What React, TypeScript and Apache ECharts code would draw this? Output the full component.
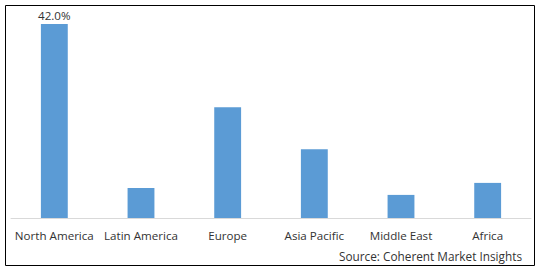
import React, { useEffect, useRef } from "react";
import * as echarts from "echarts";

const categories = ["North America", "Latin America", "Europe", "Asia Pacific", "Middle East", "Africa"];
const shares = [42.0, 6.5, 24.0, 14.9, 5.0, 7.6];
const labeledIndex = 0;
const sourceText = "Source: Coherent Market Insights";

export default function App() {
  const ref = useRef<HTMLDivElement>(null);
  useEffect(() => {
    if (!ref.current) return;
    const chart = echarts.init(ref.current, null, { renderer: "svg" });
    const font = "'Open Sans', 'Noto Sans', sans-serif";
    chart.setOption({
      animation: false,
      backgroundColor: "#ffffff",
      grid: { left: 11, right: 8, top: 24, bottom: 54, containLabel: false },
      xAxis: {
        type: "category",
        data: categories,
        axisLine: { show: true, lineStyle: { color: "#d9d9d9", width: 1 } },
        axisTick: { show: false },
        axisLabel: { color: "#333333", fontSize: 11.6, fontFamily: font, margin: 11, interval: 0 },
      },
      yAxis: {
        type: "value",
        min: 0,
        max: "dataMax",
        show: false,
        splitLine: { show: false },
      },
      series: [
        {
          type: "bar",
          data: shares.map((v, i) => ({
            value: v,
            label: {
              show: i === labeledIndex,
              position: "top",
              distance: 3,
              formatter: (p: any) => p.value.toFixed(1) + "%",
              color: "#333333",
              fontSize: 11.6,
              fontFamily: font,
            },
          })),
          barWidth: "31%",
          itemStyle: { color: "#5b9bd5" },
        },
      ],
      graphic: [
        {
          type: "rect",
          shape: { x: 5.5, y: 5.5, width: 529, height: 260 },
          style: { fill: "none", stroke: "#000000", lineWidth: 1 },
          silent: true,
        },
        {
          type: "text",
          right: 17,
          top: 250,
          style: { text: sourceText, fill: "#333333", fontSize: 11.8, fontFamily: font },
        },
      ],
    });
    return () => chart.dispose();
  }, []);
  return <div ref={ref} style={{ position: "fixed", left: 0, top: 0, width: 539, height: 272 }} />;
}
